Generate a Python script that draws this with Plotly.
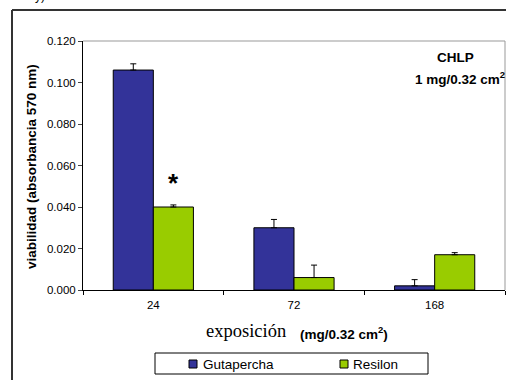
import plotly.graph_objects as go

categories = ["24", "72", "168"]
gutapercha = [0.106, 0.030, 0.002]
gutapercha_err = [0.003, 0.004, 0.003]
resilon = [0.040, 0.006, 0.017]
resilon_err = [0.001, 0.006, 0.001]
y_ticks = [0.0, 0.02, 0.04, 0.06, 0.08, 0.10, 0.12]
series_names = ["Gutapercha", "Resilon"]
series_colors = ["#333399", "#99CC00"]

W, H = 506, 380
L, R, T, B = 83, 1, 41, 90
pw, ph = W - L - R, H - T - B

def px(x):
    return (x - L) / pw

def py(y):
    return (H - B - y) / ph

FONT = "Liberation Sans, Arial, sans-serif"

fig = go.Figure()
for name, vals, errs, col in [
    (series_names[0], gutapercha, gutapercha_err, series_colors[0]),
    (series_names[1], resilon, resilon_err, series_colors[1]),
]:
    fig.add_trace(go.Bar(
        x=categories, y=vals, name=name,
        marker=dict(color=col, line=dict(color="#000000", width=1)),
        error_y=dict(type="data", array=errs, arrayminus=[0] * len(errs), symmetric=False,
                     color="#000000", thickness=1, width=3),
    ))

fig.update_layout(
    width=W, height=H,
    margin=dict(l=L, r=R, t=T, b=B, autoexpand=False),
    paper_bgcolor="white", plot_bgcolor="white",
    barmode="group", bargap=0.43, bargroupgap=0,
    font=dict(family=FONT, size=11.5, color="#000000"),
    showlegend=False,
    xaxis=dict(
        type="category", showline=True, linecolor="#000000", linewidth=1,
        ticks="outside", ticklen=4, tickcolor="#000000", tickson="boundaries",
        ticklabelstandoff=4,
        showgrid=False, tickfont=dict(family=FONT, size=11.5, color="#000000"),
        range=[-0.5, 2.5],
    ),
    yaxis=dict(
        range=[0, 0.12], tickvals=y_ticks, tickformat=".3f",
        showline=True, linecolor="#000000", linewidth=1,
        ticks="outside", ticklen=4, tickcolor="#444444",
        showgrid=False, zeroline=False,
        tickfont=dict(family=FONT, size=11.5, color="#000000"),
    ),
)

# plot area top/right gray border
fig.add_shape(type="line", xref="paper", yref="paper", x0=0, x1=1, y0=1, y1=1,
              line=dict(color="#999999", width=1))
fig.add_shape(type="line", xref="paper", yref="paper", x0=1, x1=1, y0=0, y1=1,
              line=dict(color="#999999", width=1))

# outer frame (top and left)
fig.add_shape(type="line", xref="paper", yref="paper", x0=px(12), x1=px(508), y0=py(10), y1=py(10),
              line=dict(color="#333333", width=2))
fig.add_shape(type="line", xref="paper", yref="paper", x0=px(12), x1=px(12), y0=py(10), y1=py(385),
              line=dict(color="#333333", width=2))

# legend box
fig.add_shape(type="rect", xref="paper", yref="paper", x0=px(155), x1=px(428), y0=py(353), y1=py(374),
              line=dict(color="#000000", width=1), fillcolor="white")
legend_sq_x = [189, 340]
legend_txt_x = [201, 351]
for i, name in enumerate(series_names):
    fig.add_shape(type="rect", xref="paper", yref="paper",
                  x0=px(legend_sq_x[i]), x1=px(legend_sq_x[i] + 8), y0=py(360), y1=py(368),
                  line=dict(color="#000000", width=1), fillcolor=series_colors[i])
    fig.add_annotation(text=name, xref="paper", yref="paper", x=px(legend_txt_x[i]), y=py(364),
                       xanchor="left", yanchor="middle", showarrow=False,
                       font=dict(family=FONT, size=13.5))

annotations = [
    dict(text="<b>viabilidad (absorbancia 570 nm)</b>", x=px(31), y=py(167), xanchor="center",
         yanchor="middle", textangle=-90, font=dict(family=FONT, size=13.5)),
    dict(text="<b>CHLP</b>", x=px(455), y=py(58), xanchor="center", yanchor="middle",
         font=dict(family=FONT, size=13.5)),
    dict(text="<b>1 mg/0.32 cm<sup>2</sup></b>", x=px(507), y=py(78), xanchor="right", yanchor="middle",
         font=dict(family=FONT, size=13.5)),
    dict(text="<b>*</b>", x=px(173), y=py(183), xanchor="center", yanchor="middle",
         font=dict(family=FONT, size=26)),
    dict(text="exposición", x=px(204), y=py(331), xanchor="left", yanchor="middle",
         font=dict(family="Liberation Serif, Times New Roman, serif", size=18.5)),
    dict(text="<b>(mg/0.32 cm<sup>2</sup>)</b>", x=px(298), y=py(333), xanchor="left", yanchor="middle",
         font=dict(family=FONT, size=13.5)),
    dict(text="y)", x=px(40), y=py(-4), xanchor="center", yanchor="middle",
         font=dict(family=FONT, size=12)),
]
for a in annotations:
    a.update(xref="paper", yref="paper", showarrow=False)
    fig.add_annotation(**a)

fig.write_html("out.html")
